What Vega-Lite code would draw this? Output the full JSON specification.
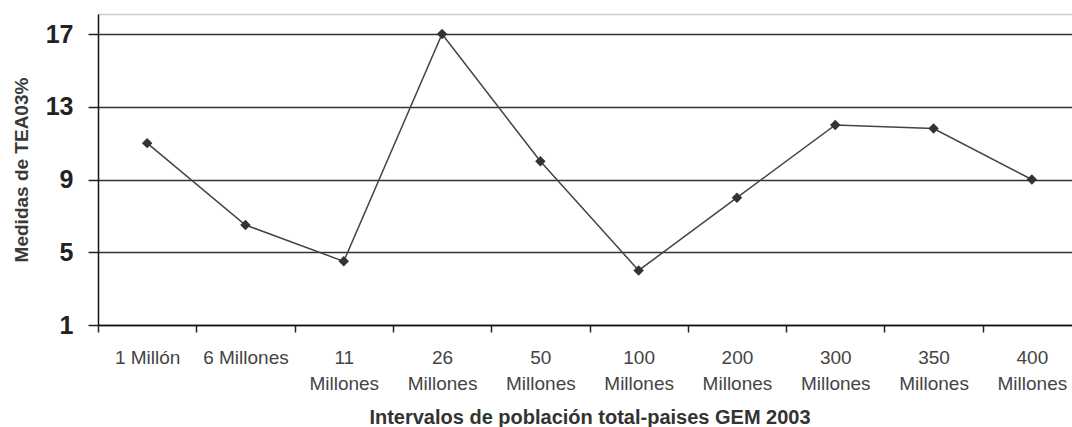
{
  "$schema": "https://vega.github.io/schema/vega-lite/v6.json",
  "width": 974,
  "height": 311,
  "autosize": {"type": "none"},
  "padding": {"left": 98, "top": 14, "right": 0, "bottom": 102},
  "background": "white",
  "config": {
    "view": {"stroke": null},
    "font": "Liberation Sans"
  },
  "data": {
    "values": [
      {"intervalo": "1 Millón", "tea": 11.0},
      {"intervalo": "6 Millones", "tea": 6.5},
      {"intervalo": "11 Millones", "tea": 4.5},
      {"intervalo": "26 Millones", "tea": 17.0},
      {"intervalo": "50 Millones", "tea": 10.0},
      {"intervalo": "100 Millones", "tea": 4.0},
      {"intervalo": "200 Millones", "tea": 8.0},
      {"intervalo": "300 Millones", "tea": 12.0},
      {"intervalo": "350 Millones", "tea": 11.8},
      {"intervalo": "400 Millones", "tea": 9.0}
    ]
  },
  "encoding": {
    "x": {
      "field": "intervalo",
      "type": "nominal",
      "sort": null,
      "scale": {"type": "band", "range": [0, 983], "paddingInner": 0, "paddingOuter": 0},
      "axis": {
        "title": "Intervalos de población total-paises GEM 2003",
        "titleFont": "Liberation Sans",
        "titleFontSize": 20,
        "titleFontWeight": "bold",
        "titleColor": "#333333",
        "titlePadding": 14,
        "labelAngle": 0,
        "labelFontSize": 19,
        "labelColor": "#444444",
        "labelLineHeight": 26,
        "labelPadding": 16,
        "labelExpr": "(datum.label == '1 Millón' || datum.label == '6 Millones') ? datum.label : split(datum.label, ' ')",
        "tickBand": "extent",
        "tickSize": 7,
        "tickColor": "#222222",
        "tickWidth": 1.5,
        "domainColor": "#111111",
        "domainWidth": 1.5,
        "grid": false
      }
    },
    "y": {
      "field": "tea",
      "type": "quantitative",
      "scale": {"domain": [1, 18.1], "nice": false, "zero": false},
      "axis": {
        "title": "Medidas de TEA03%",
        "titleFont": "Liberation Sans",
        "titleFontSize": 19,
        "titleFontWeight": "bold",
        "titleColor": "#3a3a3a",
        "titlePadding": 14,
        "values": [1, 5, 9, 13, 17, 18.1],
        "labelExpr": "datum.value > 18 ? '' : datum.label",
        "labelFontSize": 25,
        "labelFontWeight": "bold",
        "labelColor": "#222222",
        "labelPadding": 15,
        "tickSize": 10,
        "tickColor": {"condition": {"test": "datum.value > 18", "value": "transparent"}, "value": "#222222"},
        "tickWidth": 1.5,
        "domainColor": "#111111",
        "domainWidth": 1.5,
        "grid": true,
        "gridColor": {"condition": {"test": "datum.value > 18", "value": "#cccccc"}, "value": "#333333"},
        "gridWidth": 1.6,
        "gridOpacity": 1
      }
    }
  },
  "layer": [
    {"mark": {"type": "line", "color": "#444444", "strokeWidth": 1.5}},
    {"mark": {"type": "point", "shape": "diamond", "filled": true, "color": "#333333", "size": 110, "opacity": 1}}
  ]
}
